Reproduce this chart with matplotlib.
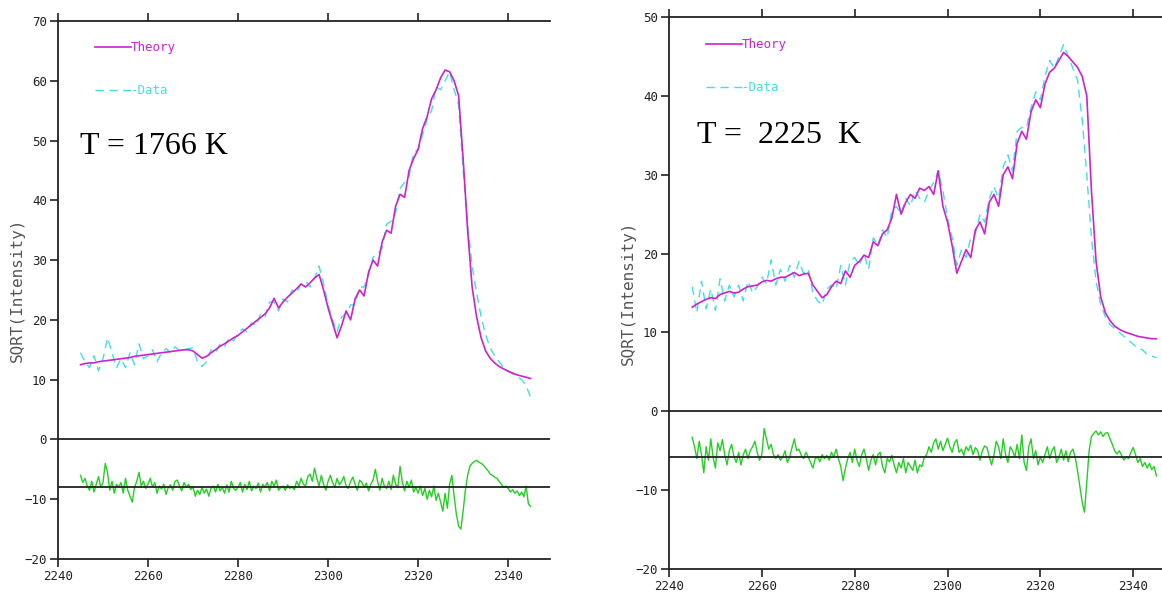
import matplotlib
matplotlib.use('Agg')
import matplotlib.pyplot as plt
import numpy as np

THEORY_COLOR = '#d020d0'
DATA_COLOR = '#40e0e0'
RESID_COLOR = '#22d022'
MONO = 'DejaVu Sans Mono'

X_START = 2245

# left panel, T = 1766 K  (one value per unit of x)
left_theory = [
    12.5, 12.7, 12.8, 12.8, 13.0, 13.1, 13.2, 13.3, 13.4, 13.5,
    13.6, 13.7, 13.9, 14.0, 14.1, 14.2, 14.3, 14.4, 14.5, 14.6,
    14.7, 14.8, 14.9, 15.0, 15.0, 14.8, 14.2, 13.6, 13.9, 14.5,
    15.0, 15.6, 16.0, 16.5, 17.0, 17.4, 18.0, 18.6, 19.2, 19.8,
    20.4, 21.0, 22.0, 23.6, 22.0, 23.0, 23.8, 24.5, 25.2, 26.0,
    25.5, 26.2, 27.0, 27.6, 25.0, 22.0, 19.5, 17.0, 19.0, 21.5,
    20.0, 23.5, 25.0, 24.0, 28.0, 30.0, 29.0, 33.0, 35.0, 34.5,
    39.0, 41.0, 40.5, 45.0, 47.0, 48.5, 52.0, 54.0, 57.0, 58.5,
    60.5, 61.8, 61.5, 60.0, 57.5, 47.0, 35.0, 25.5, 20.5, 17.0,
    14.8, 13.6, 12.8, 12.2, 11.8, 11.4, 11.1, 10.8, 10.6, 10.4,
    10.2,
]
left_data = [
    14.5, 13.0, 12.0, 14.0, 11.5, 13.5, 17.0, 14.5, 12.0, 13.5,
    12.0, 14.5, 12.5, 16.0, 13.5, 14.0, 15.0, 13.0, 14.5, 15.2,
    14.5, 15.5, 14.8, 15.0, 15.2, 15.3, 13.0, 12.2, 13.0, 15.0,
    14.5, 16.0, 15.5, 17.0, 16.5, 17.8, 18.5, 18.0, 19.5, 19.0,
    21.0, 20.5, 23.0, 23.0, 21.5, 23.5, 23.0, 25.0, 24.5, 26.0,
    26.5, 25.5, 27.0, 29.0, 26.0, 22.5, 20.0, 18.0, 20.5, 21.0,
    22.5, 22.5, 25.5, 25.5, 27.5, 30.5, 31.0, 32.0, 36.0, 36.5,
    38.0, 42.0, 43.0, 44.0, 48.0, 48.5, 51.0, 53.5, 55.0, 59.0,
    58.5, 60.0, 61.5, 58.5, 56.0, 45.0, 36.0, 29.0, 24.5, 20.5,
    17.5, 15.3, 14.0, 13.0, 12.0, 11.5, 11.0, 10.5, 10.0, 9.0,
    7.0,
]
# residuals, one value per half unit of x
left_resid = [
    -6.0, -7.2, -6.5, -7.8, -8.5, -7.0, -8.8, -7.5, -6.2, -8.0,
    -7.2, -4.0, -5.5, -8.5, -7.0, -9.0, -7.5, -8.0, -7.2, -9.0,
    -6.5, -8.5, -9.5, -10.5, -8.0, -7.0, -5.5, -7.8, -7.0, -8.2,
    -7.5, -6.5, -8.0, -7.2, -9.0, -7.8, -8.3, -7.5, -9.2, -8.0,
    -7.6, -8.5, -7.0, -6.8, -7.8, -8.6, -7.2, -8.0, -7.5, -8.4,
    -8.0, -9.5, -8.5, -9.2, -8.0, -9.0, -8.3, -9.5, -8.2, -7.8,
    -8.8, -7.5, -8.6, -8.0, -9.0, -7.6, -8.8, -7.0, -8.2, -8.5,
    -8.0, -7.2, -8.8, -7.5, -8.4, -7.0, -8.6, -7.8, -8.2, -7.3,
    -8.8, -7.5, -8.0, -7.2, -8.6, -7.0, -7.8, -6.8, -8.5, -8.0,
    -7.8, -8.5, -7.6, -8.2, -7.9, -8.4, -7.0, -7.8, -6.5, -7.5,
    -7.8, -6.2, -5.8, -7.0, -4.8, -6.5, -7.8, -6.0, -7.5, -8.5,
    -7.0, -6.0, -7.2, -8.0, -6.5, -7.6, -7.0, -6.2, -7.8, -8.2,
    -7.0, -6.3, -7.5, -8.5, -6.8, -7.2, -8.0, -7.3, -8.6, -7.5,
    -6.8, -5.0, -7.0, -8.5, -6.5, -7.8, -8.2, -7.0, -8.4, -6.0,
    -7.5, -8.0, -4.5, -7.2, -8.6, -7.0, -8.0, -6.8, -8.8, -8.0,
    -9.0, -7.8, -9.4, -8.2, -10.0, -8.5, -9.6, -7.8, -10.2, -9.0,
    -10.5, -12.0, -9.0, -11.5, -7.5, -6.0, -9.5, -12.5, -14.5, -15.0,
    -12.0, -8.5, -6.0, -4.5, -4.0, -3.7, -3.5, -3.8, -4.0, -4.3,
    -4.8, -5.2, -5.8, -6.0, -6.3, -6.5, -7.0, -7.5, -8.0, -7.8,
    -8.2, -8.8, -8.4, -9.0, -8.6, -9.4, -8.8, -9.6, -7.8, -10.8,
    -11.2,
]
left_level = -8.0

# right panel, T = 2225 K
right_theory = [
    13.2, 13.6, 13.9, 14.2, 14.4, 14.3, 14.8, 15.0, 15.2, 15.0,
    15.1, 15.5, 15.8, 15.9, 16.0, 16.4, 16.6, 16.5, 16.8, 17.0,
    17.0, 17.3, 17.6, 17.2, 17.4, 17.5, 16.0, 15.2, 14.4, 14.8,
    15.8, 16.5, 16.2, 17.8, 17.0, 18.5, 19.0, 19.8, 19.5, 21.5,
    21.0, 22.5, 23.0, 24.5, 27.5, 25.0, 26.5, 27.5, 27.0, 28.3,
    28.0, 28.5, 27.5, 30.5, 26.0, 24.0, 21.0, 17.5, 19.0, 20.5,
    19.5, 23.0, 24.0, 22.5, 26.5, 27.5, 26.0, 30.0, 31.0, 29.5,
    34.0, 35.5, 34.5, 38.0, 39.5, 38.5, 41.5, 43.0, 43.5, 44.5,
    45.5, 45.0, 44.3, 43.6, 42.5, 40.0, 28.0, 19.0, 14.5, 12.5,
    11.5, 10.8, 10.4, 10.1, 9.9, 9.7, 9.5, 9.4, 9.3, 9.2,
    9.2,
]
right_data = [
    15.8, 12.5, 16.5, 13.0, 15.5, 12.8, 16.8, 14.0, 16.0, 14.5,
    16.0, 14.0, 16.5, 15.0, 15.8, 17.0, 16.2, 19.2, 16.0, 18.0,
    16.5, 18.5, 17.0, 19.0, 17.5, 18.0, 15.0, 14.0, 13.5, 15.5,
    16.0, 15.5, 18.5, 16.0, 19.0, 19.5, 18.5, 20.0, 18.0, 22.0,
    21.0, 23.0, 22.0, 25.5, 26.0, 25.0, 27.0, 26.0, 28.0, 27.0,
    26.5, 28.0, 29.0, 30.5, 28.0, 24.5, 22.0, 18.5, 20.5, 19.5,
    22.0, 22.5, 25.0, 24.0, 27.0, 28.5, 27.0, 31.0, 32.5, 30.5,
    35.5, 36.0, 36.0, 38.5, 40.5, 39.5, 42.5, 44.5, 43.5, 45.0,
    46.5, 45.0, 43.5, 42.0, 37.0, 30.0, 22.0, 16.5, 13.5, 12.0,
    11.0, 10.5, 10.0, 9.5, 9.0, 8.5, 8.0, 7.8, 7.2, 7.0,
    6.8,
]
right_resid = [
    -3.3, -4.5, -6.0, -3.8, -5.5, -7.8, -4.5, -6.2, -3.5, -5.8,
    -7.2, -4.0, -5.0, -3.6, -5.5, -6.8, -5.0, -4.2, -5.8, -6.5,
    -5.2, -6.8, -5.5, -4.8, -6.0, -5.0, -4.5, -3.8, -5.2, -6.2,
    -5.5, -2.2, -3.5, -4.8, -4.2, -5.5, -6.0, -5.5, -6.2, -5.8,
    -5.0, -6.5, -5.8, -4.6, -3.5, -5.0, -4.8, -5.6, -6.0, -5.2,
    -5.8, -6.5, -7.2, -6.0, -5.8, -6.4, -5.5, -6.0, -5.6, -6.2,
    -5.2, -5.8, -4.8, -6.0, -7.0, -8.8, -7.2, -6.0, -5.2, -6.5,
    -4.8, -6.2, -7.0, -5.5, -4.8, -6.0, -7.5, -6.2, -5.5, -6.8,
    -5.5, -5.2, -7.0, -7.8, -6.0, -6.4, -5.6, -6.8, -7.8, -6.5,
    -7.2, -6.0, -7.8, -6.5, -7.0, -7.5, -6.2, -7.8, -6.8, -7.0,
    -5.8, -5.5, -4.5, -5.2, -4.0, -3.5, -4.8, -3.8, -5.0, -4.2,
    -3.4, -4.5, -5.2, -4.0, -3.6, -5.2, -4.8, -5.6, -4.5, -5.0,
    -4.3, -5.5, -4.6, -5.0, -6.2, -5.0, -4.4, -4.6, -5.8, -6.8,
    -5.5, -3.8, -4.5, -6.0, -3.5, -5.5, -6.5, -4.5, -5.0, -5.8,
    -4.2, -6.0, -3.0, -6.5, -7.5, -4.5, -3.5, -6.0, -5.0, -6.8,
    -5.8, -6.5, -5.5, -4.5, -6.0, -5.0, -4.5, -6.5, -5.8, -4.8,
    -6.2, -5.0, -6.4, -5.2, -4.8, -5.8, -7.5, -9.5, -11.5, -12.8,
    -9.0, -5.0, -3.2, -2.8, -2.5, -3.0, -2.6, -3.2, -2.8, -2.7,
    -3.5, -4.2, -5.0, -5.4, -5.0, -5.6, -6.2, -5.8, -6.0, -5.2,
    -4.6, -5.5, -6.5, -6.0, -7.0, -6.5, -7.2, -6.6, -7.4, -7.0,
    -8.2,
]
right_level = -5.8

x_ticks = [2240, 2260, 2280, 2300, 2320, 2340]


def draw_panel(ax, theory, data, resid, level, temp_label, ylim, xmax, legend_pos, temp_pos):
    x_full = X_START + np.arange(len(theory))
    x_half = X_START + 0.5 * np.arange(len(resid))
    ax.plot(x_full, data, color=DATA_COLOR, lw=1.0, dashes=(6, 4), label='-Data')
    ax.plot(x_full, theory, color=THEORY_COLOR, lw=1.2, label='Theory')
    ax.plot(x_half, resid, color=RESID_COLOR, lw=1.0)
    ax.axhline(0, color='#222222', lw=1.3)
    ax.axhline(level, color='#222222', lw=1.3)

    ax.set_xlim(2240, xmax)
    ax.set_ylim(*ylim)
    ax.set_xticks(x_ticks)
    ax.set_yticks(np.arange(ylim[0], ylim[1] + 1, 10))
    for side in ['left', 'top', 'bottom']:
        ax.spines[side].set_color('#222222')
        ax.spines[side].set_linewidth(1.3)
    ax.spines['right'].set_visible(False)
    ax.tick_params(top=True, labeltop=False, right=False, direction='out',
                   length=6, width=1.2, color='#222222', labelsize=9,
                   labelcolor='#222222', pad=2)
    for lab in ax.get_xticklabels() + ax.get_yticklabels():
        lab.set_family(MONO)
    ax.set_ylabel('SQRT(Intensity)', family=MONO, fontsize=11.5, color='#555555')
    ax.yaxis.set_label_coords(-0.068, 0.5)

    handles, labels = ax.get_legend_handles_labels()
    leg = ax.legend(handles[::-1], labels[::-1], loc='upper left',
                    bbox_to_anchor=legend_pos, frameon=False,
                    handlelength=2.9, handletextpad=0.0, labelspacing=2.4,
                    borderaxespad=0, borderpad=0,
                    prop={'family': MONO, 'size': 9})
    for text, color in zip(leg.get_texts(), [THEORY_COLOR, DATA_COLOR]):
        text.set_color(color)

    ax.text(temp_pos[0], temp_pos[1], temp_label, transform=ax.transAxes,
            family='Liberation Serif', fontsize=23, color='black', va='baseline')


fig = plt.figure(figsize=(11.62, 5.92), dpi=100)

ax1 = fig.add_axes([58 / 1162, 33 / 592, 492 / 1162, 538 / 592])
draw_panel(ax1, left_theory, left_data, left_resid, left_level, 'T = 1766 K',
           (-20, 70), 2349.3, (0.075, 0.962), (0.045, 0.753))

ax2 = fig.add_axes([669 / 1162, 23 / 592, 493 / 1162, 552 / 592])
draw_panel(ax2, right_theory, right_data, right_resid, right_level, 'T =  2225  K',
           (-20, 50), 2346.2, (0.075, 0.962), (0.057, 0.772))

fig.savefig('out.png', dpi=100, facecolor='white')
